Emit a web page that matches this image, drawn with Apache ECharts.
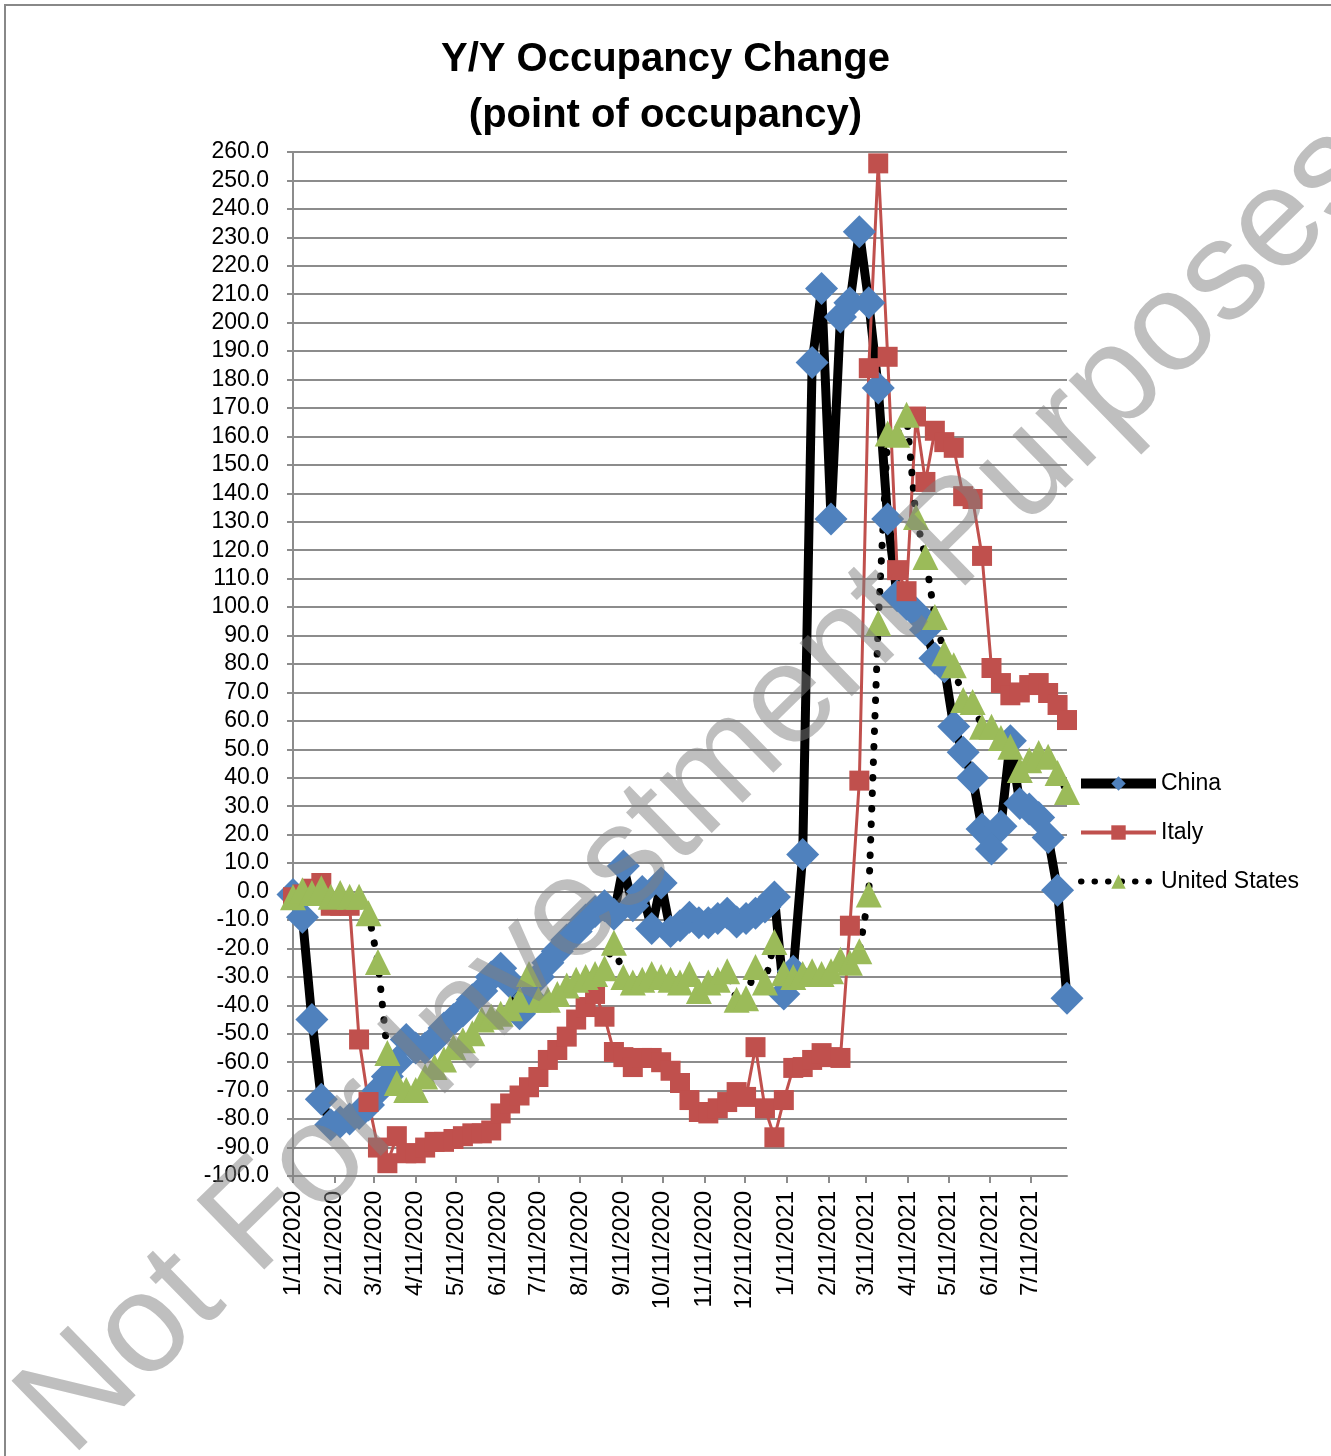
<!DOCTYPE html>
<html>
<head>
<meta charset="utf-8">
<title>Y/Y Occupancy Change</title>
<script src="https://cdn.jsdelivr.net/npm/echarts@6/dist/echarts.min.js"></script>
<style>
html, body { margin: 0; padding: 0; background: #fff; }
#main { width: 1331px; height: 1456px; }
</style>
</head>
<body>
<div id="main"></div>
<script>
// weekly observations, first week = 1/11/2020
var firstWeek = '1/11/2020';
var monthLabels = ['1/11/2020', '2/11/2020', '3/11/2020', '4/11/2020', '5/11/2020', '6/11/2020',
    '7/11/2020', '8/11/2020', '9/11/2020', '10/11/2020', '11/11/2020', '12/11/2020',
    '1/11/2021', '2/11/2021', '3/11/2021', '4/11/2021', '5/11/2021', '6/11/2021', '7/11/2021'];

var china = [-1, -9, -45, -73, -82, -81, -80, -78, -75, -70,
    -65, -60, -52, -55, -55, -52, -48, -45, -42, -38,
    -35, -30, -27, -32, -43, -37, -30, -25, -21, -17,
    -14, -10, -7, -5, -8, 9, -5, 0, -13, 3,
    -14, -12, -9, -11, -11, -9.5, -7.6, -10.7, -9.5, -7.6,
    -5.4, -1.9, -36, -28, 13, 186, 212, 131, 202, 207,
    232, 207, 177, 131, 104, 101, 98, 92, 82, 79,
    58, 49, 40, 22, 15, 23, 53, 31, 29, 26,
    19, 0.5, -37.5];

var italy = [-2, -1, 1, 3, -5, -5, -5, -52, -74, -90,
    -95.5, -86, -92, -92, -90, -88, -88, -87, -86, -85,
    -85, -84, -78, -74.5, -71.7, -68.8, -65.2, -59.2, -55.7, -51,
    -45, -40.6, -36, -44, -56.4, -58.2, -61.7, -58.5, -58.5, -60,
    -63, -67.3, -73.3, -77.5, -78, -76.2, -74, -70.5, -72.2, -54.7,
    -76.2, -86.4, -73.3, -62, -61.7, -59.2, -56.8, -58.2, -58.5, -12,
    39, 184, 256, 188, 113, 105.6, 167, 144, 162, 158,
    156, 139, 138, 118, 78.6, 73.3, 69, 70, 72.6, 73.3,
    69.8, 65.6, 60.3];

var unitedStates = [-2, 0.5, -0.5, 1.2, -1.8, -0.5, -1.8, -1.8, -7.6, -24.8,
    -56.8, -67.3, -69.8, -69.8, -65, -61.7, -59, -54.7, -52.3, -49.8,
    -45, -44, -43, -41, -38, -29, -38, -38, -36, -33,
    -31, -30, -29, -27, -18, -30, -32, -31, -29, -30,
    -31, -32, -29, -35, -32, -31, -28, -38, -37.5, -26.5,
    -32, -17.7, -28.7, -30, -29, -28, -29, -28, -24, -25,
    -21, -1, 94.4, 161, 160.6, 167.6, 131.7, 117.6, 96.5, 83.8,
    79.6, 67.3, 66.6, 57.9, 57.9, 54, 50.9, 42.7, 46.2, 48.7,
    47.4, 41.7, 35];

function toUTC(s) {
    var p = s.split('/');
    return Date.UTC(+p[2], +p[0] - 1, +p[1]);
}
function dayOffset(s) {
    return Math.round((toUTC(s) - toUTC(firstWeek)) / 86400000);
}
var labelDays = monthLabels.map(dayOffset);
function weekly(arr) {
    return arr.map(function (v, i) { return [i * 7, v]; });
}
var lastDay = (china.length - 1) * 7;

var gridColor = '#8c8c8c';
var font = 'Liberation Sans';
var usDots = { color: '#000', width: 7, type: [0.5, 15], cap: 'round' };

var myChart = echarts.init(document.getElementById('main'));
var option = {
    backgroundColor: '#fff',
    animation: false,
    title: [{
        text: 'Y/Y Occupancy Change',
        left: 'center',
        top: 35,
        textStyle: { fontFamily: font, fontSize: 40, fontWeight: 'bold', color: '#000' }
    }, {
        text: '(point of occupancy)',
        left: 'center',
        top: 91,
        textStyle: { fontFamily: font, fontSize: 40, fontWeight: 'bold', color: '#000' }
    }],
    legend: {
        orient: 'vertical',
        left: 1071,
        top: 766,
        itemWidth: 75,
        itemHeight: 18,
        itemGap: 24,
        textStyle: { fontFamily: font, fontSize: 23, color: '#000', lineHeight: 25 },
        data: [
            { name: 'China', lineStyle: { color: '#000', width: 10 } },
            { name: 'Italy', lineStyle: { color: '#c0504d', width: 4 } },
            { name: 'United States', lineStyle: { color: '#000', width: 6, type: [0.5, 13], cap: 'round' } }
        ]
    },
    grid: { left: 293, top: 152, right: 264, bottom: 280 },
    xAxis: [{
        type: 'value',
        min: 0,
        max: lastDay,
        axisLine: { show: false },
        axisTick: { show: false },
        splitLine: { show: false },
        axisLabel: {
            customValues: labelDays,
            rotate: 90,
            margin: 15,
            fontFamily: font,
            fontSize: 24,
            color: '#000',
            formatter: function (v) {
                var k = labelDays.indexOf(v);
                return k >= 0 ? monthLabels[k] : '';
            }
        }
    }, {
        type: 'value',
        position: 'bottom',
        min: 0,
        max: lastDay,
        axisLine: { onZero: true, lineStyle: { color: gridColor, width: 2 } },
        axisTick: { show: true, customValues: labelDays, length: 7, lineStyle: { color: gridColor, width: 2 } },
        axisLabel: { show: false },
        splitLine: { show: false }
    }],
    yAxis: {
        type: 'value',
        min: -100,
        max: 260,
        interval: 10,
        axisLine: { show: true, lineStyle: { color: gridColor, width: 2 } },
        axisTick: { show: true, length: 6, lineStyle: { color: gridColor, width: 2 } },
        splitLine: { show: true, lineStyle: { color: gridColor, width: 2 } },
        axisLabel: {
            margin: 24,
            fontFamily: font,
            fontSize: 23,
            color: '#000',
            formatter: function (v) { return v.toFixed(1); }
        }
    },
    series: [{
        name: 'China',
        type: 'line',
        data: weekly(china),
        symbol: 'diamond',
        symbolSize: 33,
        itemStyle: { color: '#4f81bd' },
        lineStyle: { color: '#000', width: 9 }
    }, {
        name: 'Italy',
        type: 'line',
        data: weekly(italy),
        symbol: 'rect',
        symbolSize: 20,
        itemStyle: { color: '#c0504d' },
        lineStyle: { color: '#c0504d', width: 3 }
    }, {
        name: 'United States',
        type: 'line',
        data: weekly(unitedStates),
        symbol: 'triangle',
        symbolSize: 26,
        itemStyle: { color: '#9bbb59' },
        lineStyle: usDots
    }],
    graphic: [{
        type: 'rect',
        shape: { x: 5, y: 5, width: 1340, height: 1470 },
        style: { fill: 'none', stroke: '#888', lineWidth: 2 },
        silent: true,
        z: 0
    }, {
        type: 'text',
        x: 700,
        y: 790,
        rotation: 44.3 * Math.PI / 180,
        z: 100,
        silent: true,
        style: {
            text: 'Not For Investment Purposes',
            font: '141px "Liberation Sans"',
            fill: 'rgba(128,128,128,0.5)',
            textAlign: 'center',
            textVerticalAlign: 'middle'
        }
    }]
};
myChart.setOption(option);
</script>
</body>
</html>
